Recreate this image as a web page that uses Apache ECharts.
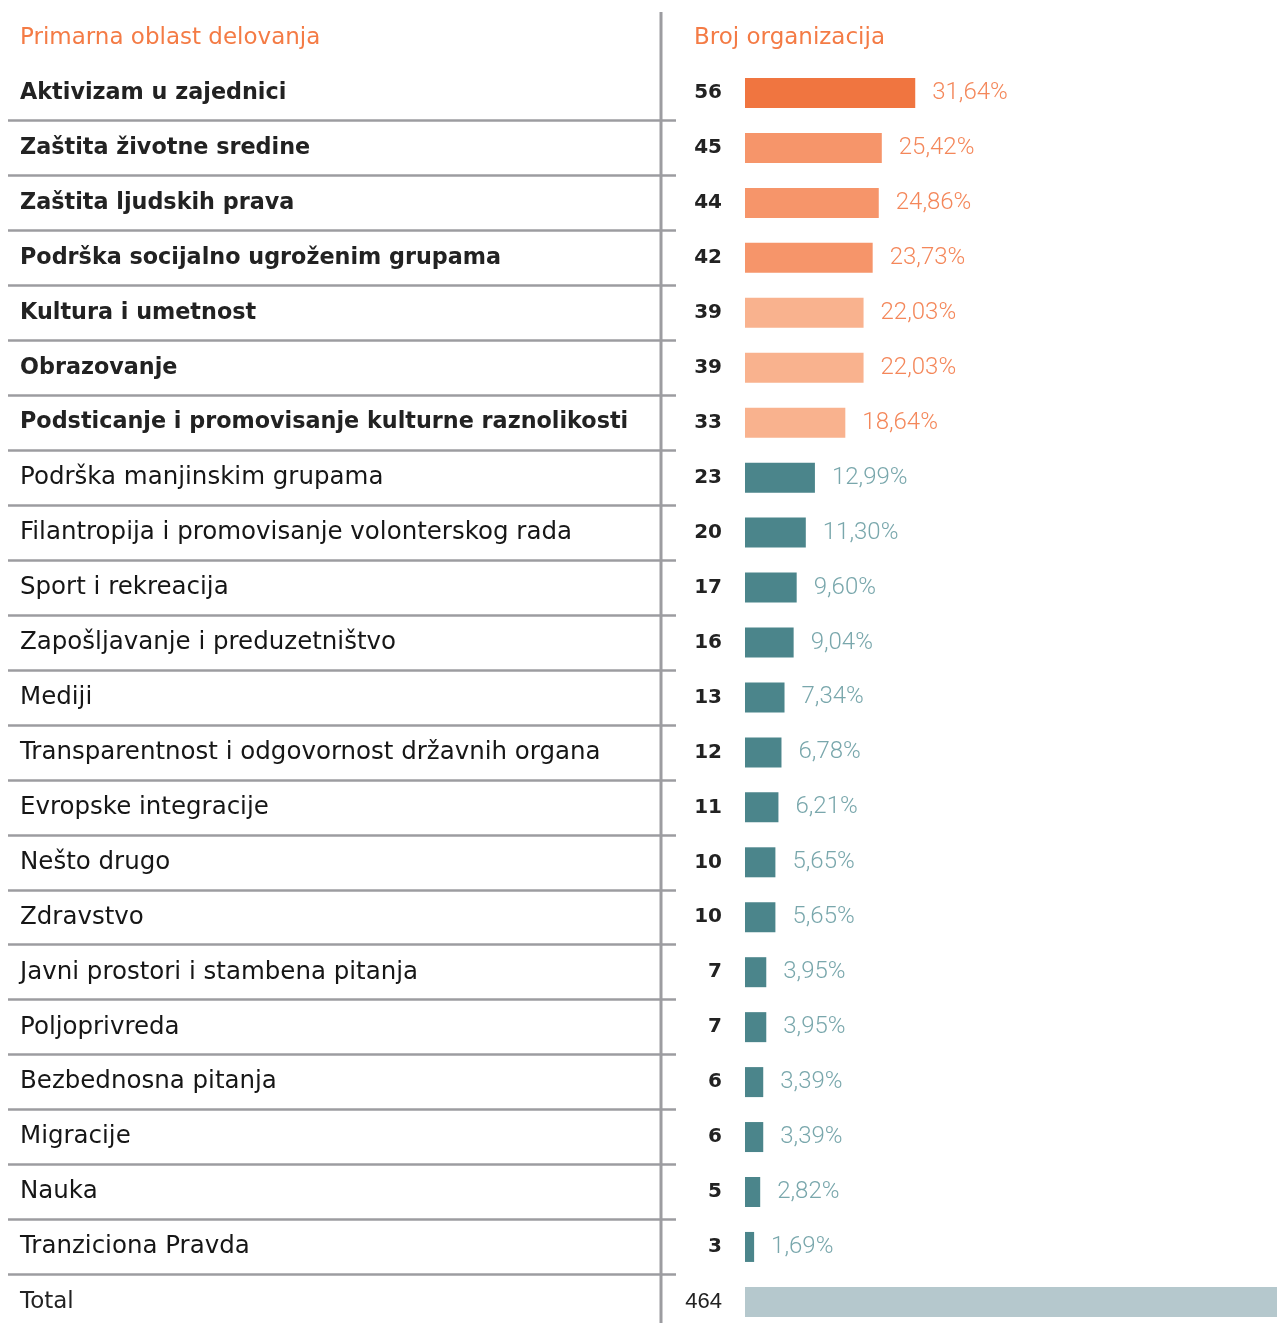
<!DOCTYPE html>
<html>
<head>
<meta charset="utf-8">
<script src="https://cdn.jsdelivr.net/npm/echarts@6/dist/echarts.min.js"></script>
<style>
  html, body { margin: 0; padding: 0; background: #fff; }
  #chart { width: 1277px; height: 1323px; }
</style>
</head>
<body>
<div id="chart"></div>
<script>
const categories = [
  'Aktivizam u zajednici',
  'Zaštita životne sredine',
  'Zaštita ljudskih prava',
  'Podrška socijalno ugroženim grupama',
  'Kultura i umetnost',
  'Obrazovanje',
  'Podsticanje i promovisanje kulturne raznolikosti',
  'Podrška manjinskim grupama',
  'Filantropija i promovisanje volonterskog rada',
  'Sport i rekreacija',
  'Zapošljavanje i preduzetništvo',
  'Mediji',
  'Transparentnost i odgovornost državnih organa',
  'Evropske integracije',
  'Nešto drugo',
  'Zdravstvo',
  'Javni prostori i stambena pitanja',
  'Poljoprivreda',
  'Bezbednosna pitanja',
  'Migracije',
  'Nauka',
  'Tranziciona Pravda',
  'Total'
];
const counts = [56, 45, 44, 42, 39, 39, 33, 23, 20, 17, 16, 13, 12, 11, 10, 10, 7, 7, 6, 6, 5, 3, 464];
const percents = ['31,64%', '25,42%', '24,86%', '23,73%', '22,03%', '22,03%', '18,64%', '12,99%', '11,30%',
  '9,60%', '9,04%', '7,34%', '6,78%', '6,21%', '5,65%', '5,65%', '3,95%', '3,95%', '3,39%', '3,39%',
  '2,82%', '1,69%', ''];
const headers = ['Primarna oblast delovanja', 'Broj organizacija'];

const totalIdx = categories.length - 1;
const FONT = '"DejaVu Sans", sans-serif';
const GREY = '#9c9ca0';

// colour tiers follow the value, total row gets its own muted tone
function barColor(i) {
  const v = counts[i];
  if (i === totalIdx) return '#b5c8cd';
  if (i === 0) return '#f07540';
  if (v >= 40) return '#f6956a';
  if (v >= 30) return '#f9b28e';
  return '#4b858b';
}
function labelColor(i) {
  return counts[i] >= 30 ? '#f4875a' : '#79a7ac';
}

const rowH = 54.95;
const gridTop = 93 - rowH / 2;
const gridHeight = rowH * categories.length;

const chart = echarts.init(document.getElementById('chart'));
chart.setOption({
  animation: false,
  title: [
    { text: headers[0], left: 20, top: 27, padding: 0, textStyle: { color: '#f47b45', fontSize: 23, fontWeight: 'normal', fontFamily: FONT } },
    { text: headers[1], left: 694, top: 27, padding: 0, textStyle: { color: '#f47b45', fontSize: 23, fontWeight: 'normal', fontFamily: FONT } }
  ],
  graphic: [
    { type: 'rect', shape: { x: 659.5, y: 12, width: 3, height: 1320 }, style: { fill: GREY }, z: 0 }
  ],
  grid: [
    { left: 745, width: 532, top: gridTop, height: gridHeight, outerBoundsMode: 'none' },
    { left: 8, width: 668, top: gridTop, height: gridHeight, outerBoundsMode: 'none' }
  ],
  xAxis: [
    { gridIndex: 0, type: 'value', min: 0, max: 175, show: false },
    { gridIndex: 1, type: 'value', min: 0, max: 1, show: false }
  ],
  yAxis: [
    {
      gridIndex: 0, type: 'category', inverse: true, data: counts.map(String),
      axisLine: { show: false }, axisTick: { show: false }, splitLine: { show: false },
      axisLabel: {
        margin: 23, align: 'right',
        formatter: (v, i) => i === totalIdx ? '{t|' + v + '}' : '{b|' + v + '}',
        rich: {
          b: { fontFamily: FONT, fontWeight: 'bold', fontSize: 20, color: '#222' },
          t: { fontFamily: '"Liberation Sans", Arial, sans-serif', fontSize: 22, color: '#222' }
        }
      }
    },
    {
      gridIndex: 1, type: 'category', inverse: true, data: categories,
      axisLine: { show: false }, axisTick: { show: false },
      splitLine: { show: true, showMinLine: false, showMaxLine: false, lineStyle: { color: GREY, width: 2.5 } },
      axisLabel: {
        inside: true, margin: 12, align: 'left',
        formatter: (v, i) => i === totalIdx ? '{t|' + v + '}' : (i < 7 ? '{b|' + v + '}' : '{m|' + v + '}'),
        rich: {
          b: { fontFamily: FONT, fontWeight: 'bold', fontSize: 22.3, color: '#222' },
          m: { fontFamily: FONT, fontWeight: 'normal', fontSize: 24.5, color: '#161616' },
          t: { fontFamily: FONT, fontWeight: 'normal', fontSize: 23, color: '#222' }
        }
      }
    }
  ],
  series: [
    {
      type: 'bar', xAxisIndex: 0, yAxisIndex: 0, barWidth: 30, clip: true,
      data: counts.map((v, i) => ({
        value: v,
        itemStyle: { color: barColor(i) },
        label: {
          show: i !== totalIdx, position: 'right', distance: 17,
          formatter: percents[i], color: labelColor(i),
          fontFamily: 'Roboto, sans-serif', fontWeight: 300, fontSize: 24
        }
      }))
    }
  ]
});
</script>
</body>
</html>
